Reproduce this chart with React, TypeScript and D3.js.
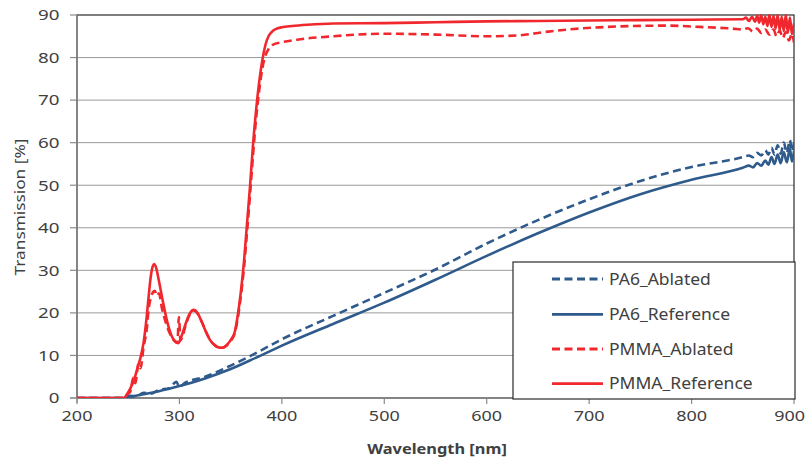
import React from "react";
import * as d3 from "d3";

// Axis ticks
const wavelengthTicks = [200, 300, 400, 500, 600, 700, 800, 900];
const transmissionTicks = [0, 10, 20, 30, 40, 50, 60, 70, 80, 90];

// PA6 ablated (dashed blue)
const pa6AblatedNm = [200, 247, 252, 258, 265, 272, 280, 290, 297, 300, 305, 325, 350, 375, 400, 450, 500, 550, 600, 650, 700, 750, 800, 850, 856, 860, 864, 868, 872, 875, 878, 881, 884, 887, 890, 893, 896, 898, 900];
const pa6AblatedT = [0, 0, 0.5, 0.4, 1.2, 1.0, 1.9, 2.3, 3.8, 2.6, 3.5, 5.0, 7.6, 10.6, 13.8, 19.3, 24.7, 30.2, 36.3, 41.8, 46.7, 51.0, 54.3, 56.6, 57.0, 56.6, 57.6, 57.0, 58.2, 57.2, 58.8, 57.2, 59.4, 57.4, 60.0, 57.6, 60.6, 58.0, 60.0];

// PA6 reference (solid blue)
const pa6ReferenceNm = [200, 247, 255, 265, 280, 300, 325, 350, 375, 400, 450, 500, 550, 600, 650, 700, 750, 800, 850, 856, 860, 864, 868, 872, 875, 878, 881, 884, 887, 890, 893, 896, 898, 900];
const pa6ReferenceT = [0, 0, 0.4, 0.9, 1.6, 2.8, 4.6, 6.8, 9.5, 12.3, 17.4, 22.4, 27.8, 33.4, 38.7, 43.6, 47.9, 51.3, 54.1, 54.6, 54.2, 55.2, 54.6, 55.8, 54.8, 56.6, 55.0, 57.2, 55.2, 57.8, 55.4, 58.6, 55.6, 58.0];

// PMMA ablated (dashed red)
const pmmaAblatedNm = [200, 246, 249, 252, 255, 257, 260, 262, 265, 268, 270, 272, 274, 276, 278, 280, 283, 287, 291, 295, 298, 299.5, 301, 303, 306, 310, 314, 318, 322, 326, 330, 334, 338, 342, 346, 350, 354, 357, 360, 363, 366, 369, 372, 375, 378, 381, 384, 387, 391, 400, 415, 450, 500, 550, 600, 630, 660, 690, 710, 740, 776, 808, 840, 850, 855, 860, 864, 868, 872, 876, 880, 883, 886, 889, 892, 895, 898, 900];
const pmmaAblatedT = [0, 0, 0.8, 1.5, 4.8, 3.5, 8.0, 7.0, 12.0, 16.0, 21.0, 23.5, 24.8, 25.2, 24.0, 24.6, 21.0, 17.5, 15.0, 13.5, 13.0, 19.0, 13.5, 14.5, 17.0, 19.6, 20.6, 19.8, 17.8, 15.5, 13.6, 12.5, 11.9, 11.8, 12.3, 13.4, 15.2, 18.8, 24.0, 30.5, 39.0, 48.0, 57.5, 66.0, 72.5, 77.5, 80.5, 82.0, 83.0, 83.6, 84.2, 85.0, 85.6, 85.4, 85.0, 85.2, 86.1, 86.8, 87.1, 87.4, 87.5, 87.2, 86.8, 86.6, 86.9, 86.1, 86.8, 85.8, 86.6, 85.4, 86.6, 85.0, 86.4, 84.6, 86.0, 84.0, 85.6, 83.5];

// PMMA reference (solid red)
const pmmaReferenceNm = [200, 246, 248, 252, 256, 259, 262, 265, 268, 270, 272, 274, 275.5, 277, 280, 284, 288, 292, 296, 299, 302, 306, 310, 314, 318, 322, 326, 330, 334, 338, 342, 346, 350, 354, 357, 360, 363, 366, 369, 372, 375, 378, 381, 384, 387, 390, 394, 400, 410, 425, 450, 500, 550, 600, 650, 700, 750, 800, 850, 853, 856, 859, 862, 864, 866, 868, 870, 872, 874, 876, 878, 880, 882, 884, 886, 888, 890, 892, 894, 896, 898, 900];
const pmmaReferenceT = [0, 0, 0.6, 2.2, 4.5, 7.0, 9.5, 13.0, 19.0, 24.0, 28.5, 31.0, 31.5, 30.8, 27.5, 22.5, 18.0, 14.8, 13.2, 12.9, 14.5, 17.4, 19.8, 20.7, 19.8, 17.8, 15.5, 13.6, 12.5, 11.9, 11.8, 12.4, 13.6, 15.5, 19.5, 25.0, 32.0, 41.0, 50.0, 60.0, 68.0, 74.5, 79.5, 83.0, 85.0, 86.0, 86.7, 87.1, 87.4, 87.7, 88.0, 88.1, 88.3, 88.5, 88.6, 88.7, 88.8, 88.9, 89.0, 89.4, 88.6, 89.6, 88.4, 89.8, 88.2, 90.0, 87.8, 89.6, 87.4, 90.0, 87.2, 89.8, 86.8, 90.0, 86.5, 89.6, 86.2, 90.0, 85.8, 89.4, 85.5, 88.0];

const seriesNames = ["PA6_Ablated", "PA6_Reference", "PMMA_Ablated", "PMMA_Reference"];

const BLUE = "#2e5a8c";
const RED = "#f0282e";

const W = 806;
const H = 461;
const plot = { left: 77, right: 794, top: 15, bottom: 398 };

const FONT = "'Noto Sans', 'Open Sans', sans-serif";
const TEXT = "#404040";

type Pt = [number, number];
const zip = (xs: number[], ys: number[]): Pt[] => xs.map((x, i) => [x, ys[i]]);

const series = [
  { name: seriesNames[0], pts: zip(pa6AblatedNm, pa6AblatedT), color: BLUE, dash: "8,4.5" },
  { name: seriesNames[1], pts: zip(pa6ReferenceNm, pa6ReferenceT), color: BLUE, dash: "" },
  { name: seriesNames[2], pts: zip(pmmaAblatedNm, pmmaAblatedT), color: RED, dash: "8,4.5" },
  { name: seriesNames[3], pts: zip(pmmaReferenceNm, pmmaReferenceT), color: RED, dash: "" },
];

// Text drawn with a slight horizontal stretch
function Label(props: {
  x: number;
  y: number;
  children: React.ReactNode;
  anchor?: "start" | "middle" | "end";
  size?: number;
  weight?: number | string;
  sx?: number;
  rotate?: number;
}) {
  const { x, y, children, anchor = "start", size = 15, weight = 400, sx = 1.2, rotate = 0 } = props;
  return (
    <text
      transform={`translate(${x},${y}) rotate(${rotate}) scale(${sx},1)`}
      textAnchor={anchor}
      fontFamily={FONT}
      fontSize={size}
      fontWeight={weight}
      fill={TEXT}
    >
      {children}
    </text>
  );
}

export default function App() {
  const x = d3.scaleLinear().domain([200, 900]).range([plot.left, plot.right]);
  const y = d3.scaleLinear().domain([0, 90]).range([plot.bottom, plot.top]);

  const line = d3
    .line<Pt>()
    .x((d) => x(d[0]))
    .y((d) => y(d[1]))
    .curve(d3.curveMonotoneX);

  const legend = { left: 513, top: 262, right: 795, bottom: 399 };
  const legendRows = [279, 314.3, 349, 383.7];
  const lastTick = wavelengthTicks[wavelengthTicks.length - 1];

  return (
    <svg
      width={W}
      height={H}
      viewBox={`0 0 ${W} ${H}`}
      style={{ position: "absolute", left: 0, top: 0, background: "#fff" }}
    >
      <defs>
        <clipPath id="plot-clip">
          <rect x={plot.left} y={plot.top - 1} width={plot.right - plot.left} height={plot.bottom - plot.top + 1} />
        </clipPath>
      </defs>

      {/* horizontal gridlines */}
      {transmissionTicks.slice(1, -1).map((t) => (
        <line key={t} x1={plot.left} x2={plot.right} y1={y(t)} y2={y(t)} stroke="#9a9a9a" strokeWidth={1} />
      ))}

      {/* plot area border */}
      <rect
        x={plot.left}
        y={plot.top}
        width={plot.right - plot.left}
        height={plot.bottom - plot.top}
        fill="none"
        stroke="#2a2a2a"
        strokeWidth={1.2}
      />

      {/* axes */}
      <line x1={plot.left} x2={plot.left} y1={plot.top} y2={plot.bottom + 5} stroke="#8a8a8a" strokeWidth={1.2} />
      <line x1={plot.left - 7} x2={plot.right} y1={plot.bottom} y2={plot.bottom} stroke="#8a8a8a" strokeWidth={1.2} />
      {transmissionTicks.map((t) => (
        <line key={t} x1={plot.left - 7} x2={plot.left} y1={y(t)} y2={y(t)} stroke="#8a8a8a" strokeWidth={1.2} />
      ))}
      {wavelengthTicks.map((w) => (
        <line key={w} x1={x(w)} x2={x(w)} y1={plot.bottom} y2={plot.bottom + 6} stroke="#8a8a8a" strokeWidth={1.2} />
      ))}

      {/* tick labels */}
      {transmissionTicks.map((t) => (
        <Label key={t} x={59.5} y={y(t) + 5.3} anchor="end" size={15} sx={1.25}>
          {t}
        </Label>
      ))}
      {wavelengthTicks.map((w) =>
        w === lastTick ? (
          <Label key={w} x={W - 1} y={421} anchor="end" size={15} sx={1.2}>
            {w}
          </Label>
        ) : (
          <Label key={w} x={x(w)} y={421} anchor="middle" size={15} sx={1.2}>
            {w}
          </Label>
        )
      )}

      {/* axis titles */}
      <Label x={24.5} y={207} anchor="middle" size={15} sx={1.15} rotate={-90}>
        Transmission  [%]
      </Label>
      <Label x={437} y={454} anchor="middle" size={14.5} weight={700} sx={1.13}>
        Wavelength [nm]
      </Label>

      {/* data series */}
      <g clipPath="url(#plot-clip)">
        {series.map((s) => (
          <path
            key={s.name}
            d={line(s.pts) ?? ""}
            fill="none"
            stroke={s.color}
            strokeWidth={2.6}
            strokeDasharray={s.dash || undefined}
            strokeLinejoin="round"
          />
        ))}
      </g>

      {/* legend */}
      <rect
        x={legend.left}
        y={legend.top}
        width={legend.right - legend.left}
        height={legend.bottom - legend.top}
        fill="#fff"
        stroke="#2a2a2a"
        strokeWidth={1.2}
      />
      {series.map((s, i) => (
        <g key={s.name}>
          <line
            x1={552}
            x2={603}
            y1={legendRows[i]}
            y2={legendRows[i]}
            stroke={s.color}
            strokeWidth={2.8}
            strokeDasharray={s.dash || undefined}
          />
          <Label x={609} y={legendRows[i] + 5.6} size={15.5} sx={1.13}>
            {s.name}
          </Label>
        </g>
      ))}
    </svg>
  );
}
